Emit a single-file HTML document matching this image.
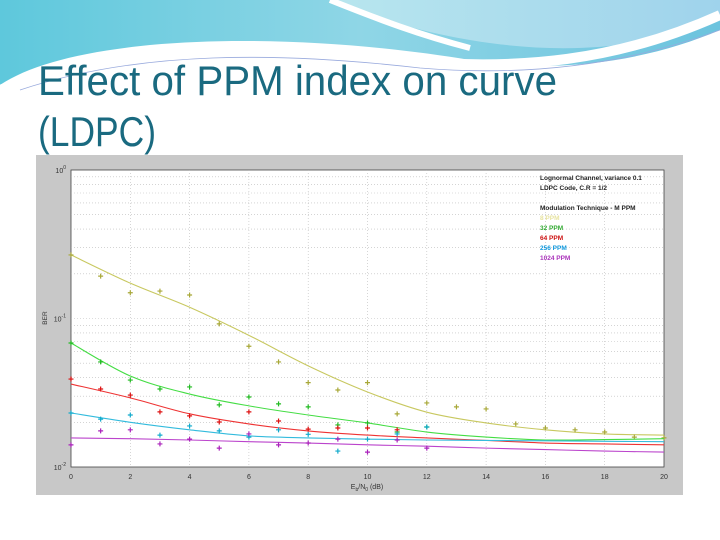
<!DOCTYPE html>
<html><head><meta charset="utf-8"><style>
html,body{margin:0;padding:0;background:#fff;}
svg{display:block;font-family:"Liberation Sans",sans-serif;}
</style></head><body>
<svg id="slide" width="720" height="540" viewBox="0 0 720 540" xmlns="http://www.w3.org/2000/svg">
<defs>
<linearGradient id="wg" x1="0" y1="0" x2="1" y2="0"><stop offset="0" stop-color="#5ec8dc"/><stop offset="0.5" stop-color="#8fd6e6"/><stop offset="1" stop-color="#6cc3de"/></linearGradient>
<linearGradient id="wg2" x1="0" y1="0" x2="1" y2="0"><stop offset="0" stop-color="#b8e6ee"/><stop offset="1" stop-color="#9fd3ec"/></linearGradient>
</defs>
<g>
<path d="M0 0 H720 V30 C650 60 560 75 470 60 C380 45 260 35 150 45 C80 52 30 65 0 85 Z" fill="url(#wg)"/>
<path d="M330 0 H720 V20 C640 50 560 55 470 40 C410 30 370 15 330 0 Z" fill="url(#wg2)"/>
<path d="M330 0 C380 20 420 35 470 48" stroke="#fff" stroke-width="6" fill="none"/>
<path d="M0 90 C120 40 260 45 400 60 C520 72 620 60 720 15" stroke="#fff" stroke-width="10" fill="none"/>
<path d="M20 90 C140 50 280 52 420 68 C540 78 640 60 720 30" stroke="#9ad" stroke-width="0.8" fill="none"/>
</g>
<g fill="#1a6a80" font-size="42">
<text x="38" y="95" textLength="519" lengthAdjust="spacingAndGlyphs">Effect of PPM index on curve</text>
<text x="38" y="146" textLength="118" lengthAdjust="spacingAndGlyphs">(LDPC)</text>
</g>
<rect x="36" y="155" width="647" height="340" fill="#c8c8c8"/>
<rect x="71" y="170" width="593" height="297" fill="#fff" stroke="#444" stroke-width="0.8"/>
<g id="grid"></g>
<g id="axes" font-size="7" fill="#333"></g>
<g id="series"></g>
<g font-size="6.5" font-weight="bold">
<text x="540" y="180" fill="#222">Lognormal Channel, variance 0.1</text>
<text x="540" y="190" fill="#222">LDPC Code, C.R = 1/2</text>
<text x="540" y="210" fill="#222">Modulation Technique - M PPM</text>
<text x="540" y="220" fill="#e8e4a0">8 PPM</text>
<text x="540" y="230" fill="#33aa33">32 PPM</text>
<text x="540" y="240" fill="#cc1111">64 PPM</text>
<text x="540" y="250" fill="#1199dd">256 PPM</text>
<text x="540" y="260" fill="#aa33bb">1024 PPM</text>
</g>
</svg>
<script>
const xTicks=[0,2,4,6,8,10,12,14,16,18,20];
const decades=[0,-1,-2];
const xs=[0,1,2,3,4,5,6,7,8,9,10,11,12,13,14,15,16,17,18,19,20];
const yellowPts=[0.268,0.193,0.149,0.153,0.144,0.092,0.065,0.051,0.037,0.033,0.037,0.0228,0.027,0.0254,0.0246,0.0195,0.0183,0.0178,0.0172,0.0159,0.0157];
const greenPts=[0.0684,0.051,0.0385,0.0335,0.0346,0.0262,0.0296,0.0266,0.0254,0.0192,0.0198,0.0172,0.0186];
const redPts=[0.0391,0.0335,0.0305,0.0235,0.0221,0.0201,0.0235,0.0204,0.018,0.0183,0.0183,0.0178];
const cyanPts=[0.0231,0.021,0.0224,0.0164,0.0189,0.0175,0.0159,0.0178,0.0166,0.0128,0.0154,0.0167,0.0186];
const magentaPts=[0.0141,0.0175,0.0178,0.0143,0.0154,0.0134,0.0167,0.0141,0.0145,0.0154,0.0126,0.0152,0.0134];
const fitX=[0,2,4,6,8,10,12,14,16,18,20];
const yellowFit=[0.268,0.173,0.119,0.077,0.048,0.032,0.0234,0.0198,0.0178,0.0167,0.0164];
const greenFit=[0.0684,0.041,0.031,0.0258,0.0224,0.0198,0.0172,0.0159,0.0152,0.0153,0.0155];
const redFit=[0.0362,0.0292,0.0228,0.0195,0.0175,0.0164,0.0157,0.0151,0.0145,0.0143,0.0141];
const cyanFit=[0.0231,0.02,0.0178,0.0162,0.0157,0.0154,0.0152,0.0151,0.015,0.0149,0.0148];
const magentaFit=[0.0157,0.0155,0.0152,0.0148,0.0145,0.0141,0.0138,0.0134,0.0131,0.0128,0.0126];
const NS="http://www.w3.org/2000/svg";
const X=v=>71+v*(593/20);
const Y=v=>170-Math.log10(v)*148.5;
function mk(t,p,a){const e=document.createElementNS(NS,t);for(const k in a)e.setAttribute(k,a[k]);p.appendChild(e);return e;}
function smooth(P){let d=`M${P[0][0]} ${P[0][1]}`;for(let i=0;i<P.length-1;i++){const p0=P[Math.max(0,i-1)],p1=P[i],p2=P[i+1],p3=P[Math.min(P.length-1,i+2)];
d+=`C${p1[0]+(p2[0]-p0[0])/6} ${p1[1]+(p2[1]-p0[1])/6} ${p2[0]-(p3[0]-p1[0])/6} ${p2[1]-(p3[1]-p1[1])/6} ${p2[0]} ${p2[1]}`;}return d;}
const grid=document.getElementById('grid'),axes=document.getElementById('axes'),ser=document.getElementById('series');
xTicks.forEach(t=>{if(t>0&&t<20){const l=mk('line',grid,{x1:X(t),x2:X(t),y1:170,y2:467,stroke:'#bbb','stroke-width':0.6,'stroke-dasharray':'1,2'});

}
const tx=mk('text',axes,{x:X(t),y:479,'text-anchor':'middle'});tx.textContent=t;

});
for(let d=-2;d<0;d++){for(let m=1;m<10;m++){const v=m*Math.pow(10,d);if(m===1&&d===-2)continue;
const l=mk('line',grid,{x1:71,x2:664,y1:Y(v),y2:Y(v),stroke:'#bbb','stroke-width':0.6,'stroke-dasharray':'1,2'});

}}
decades.forEach(d=>{const tx=mk('text',axes,{x:66,y:Y(Math.pow(10,d))+3,'text-anchor':'end'});tx.textContent='10';


const s=mk('tspan',tx,{dy:-4,'font-size':5});s.textContent=d;});
const yl=mk('text',axes,{x:0,y:0,transform:'translate(47,318) rotate(-90)','text-anchor':'middle','font-size':6.5});yl.textContent='BER';


const xl=mk('text',axes,{x:367,y:489,'text-anchor':'middle','font-size':7});xl.innerHTML='E<tspan font-size="5" dy="2">b</tspan><tspan dy="-2">/N</tspan><tspan font-size="5" dy="2">0</tspan><tspan dy="-2"> (dB)</tspan>';


const S=[['yellow','#c8c860','#a8a838',yellowPts,yellowFit],['green','#44dd44','#22bb22',greenPts,greenFit],['red','#ee3333','#dd1111',redPts,redFit],['cyan','#33bbdd','#11aacc',cyanPts,cyanFit],['magenta','#bb44cc','#aa22bb',magentaPts,magentaFit]];
S.forEach(([n,lc,mc,pts,fit])=>{
const p=mk('path',ser,{d:smooth(fit.map((v,i)=>[X(fitX[i]),Y(v)])),fill:'none',stroke:lc,'stroke-width':1.1});


pts.forEach((v,i)=>{const x=X(xs[i]),y=Y(v);
const g=mk('path',ser,{d:`M${x-2.5} ${y}H${x+2.5}M${x} ${y-2.5}V${y+2.5}`,stroke:mc,'stroke-width':1.2});

});
});
</script>
</body></html>
